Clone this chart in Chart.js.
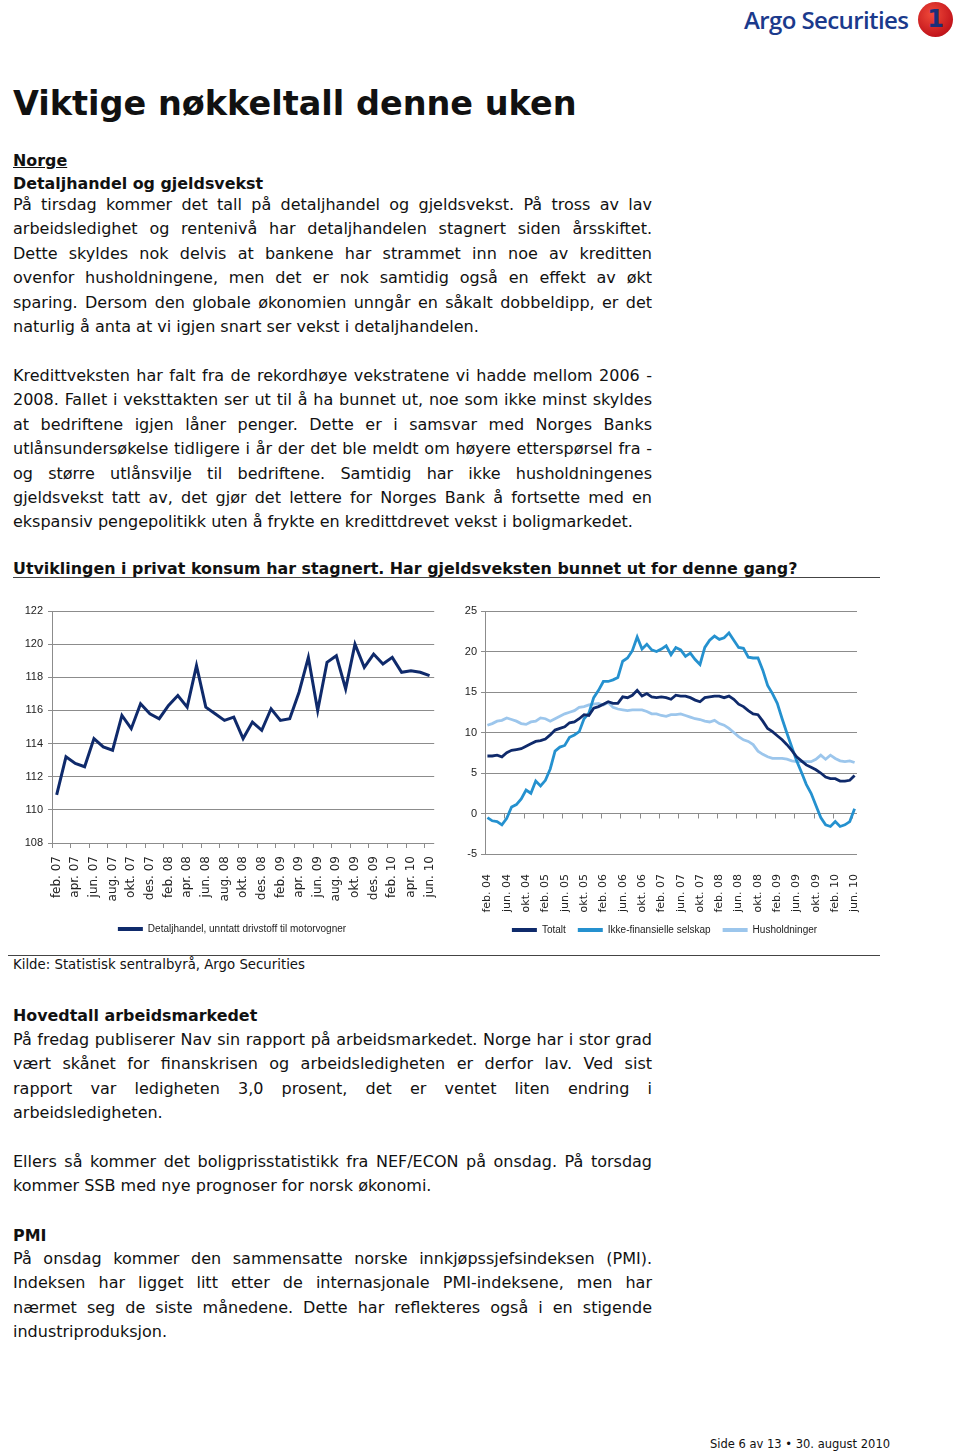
<!DOCTYPE html>
<html>
<head>
<meta charset="utf-8">
<script src="https://cdn.jsdelivr.net/npm/chart.js@4.4.0/dist/chart.umd.min.js"></script>
<style>
  body { margin: 0; width: 960px; height: 1454px; background: #fff; position: relative; font-family: 'DejaVu Sans', Verdana, sans-serif; color: #111; overflow: hidden; }
  .abs { position: absolute; }
  .txt { left: 13px; width: 639px; font-size: 16px; }
  .txt div { height: 24.4px; line-height: 24.4px; white-space: nowrap; }
  .txt div.j { text-align: justify; text-align-last: justify; }
  .b { font-weight: bold; font-size: 15.9px; left: 13px; white-space: nowrap; line-height: 23px; }
  .rule { height: 0; border-top: 1px solid #444; }
</style>
</head>
<body>

<div class="abs" style="left:744px; top:3px; font-family:'Open Sans', sans-serif; font-weight:600; font-size:24px; letter-spacing:-0.6px; color:#1b3a8c; line-height:34px;">Argo Securities</div>
<div class="abs" style="left:918px; top:2px; width:35px; height:35px; border-radius:50%; background:radial-gradient(circle at 40% 35%, #f04a3a, #c4161c 70%, #9a0f14); color:#1b2f7a; font:bold 24px 'DejaVu Sans', sans-serif; text-align:center; line-height:35px;">1</div>

<div class="abs" style="left:13px; top:84px; font-size:33.5px; font-weight:bold; line-height:40px; white-space:nowrap;">Viktige nøkkeltall denne uken</div>

<div class="abs b" style="top:149px; text-decoration:underline;">Norge</div>
<div class="abs b" style="top:172px;">Detaljhandel og gjeldsvekst</div>

<div class="abs txt" style="top:193px;">
  <div class="j">På tirsdag kommer det tall på detaljhandel og gjeldsvekst. På tross av lav</div>
  <div class="j">arbeidsledighet og rentenivå har detaljhandelen stagnert siden årsskiftet.</div>
  <div class="j">Dette skyldes nok delvis at bankene har strammet inn noe av kreditten</div>
  <div class="j">ovenfor husholdningene, men det er nok samtidig også en effekt av økt</div>
  <div class="j">sparing. Dersom den globale økonomien unngår en såkalt dobbeldipp, er det</div>
  <div>naturlig å anta at vi igjen snart ser vekst i detaljhandelen.</div>
</div>

<div class="abs txt" style="top:364px;">
  <div class="j">Kredittveksten har falt fra de rekordhøye vekstratene vi hadde mellom 2006 -</div>
  <div class="j">2008. Fallet i veksttakten ser ut til å ha bunnet ut, noe som ikke minst skyldes</div>
  <div class="j">at bedriftene igjen låner penger. Dette er i samsvar med Norges Banks</div>
  <div class="j">utlånsundersøkelse tidligere i år der det ble meldt om høyere etterspørsel fra -</div>
  <div class="j">og større utlånsvilje til bedriftene. Samtidig har ikke husholdningenes</div>
  <div class="j">gjeldsvekst tatt av, det gjør det lettere for Norges Bank å fortsette med en</div>
  <div>ekspansiv pengepolitikk uten å frykte en kredittdrevet vekst i boligmarkedet.</div>
</div>

<div class="abs b" style="top:557px;">Utviklingen i privat konsum har stagnert. Har gjeldsveksten bunnet ut for denne gang?</div>
<div class="abs rule" style="left:13px; width:867px; top:577px;"></div>

<div class="abs" style="left:0; top:595px;"><canvas id="venstre" width="452" height="349"></canvas></div>
<div class="abs" style="left:450px; top:595px;"><canvas id="hoyre" width="430" height="350"></canvas></div>

<div class="abs rule" style="left:8px; width:872px; top:955px;"></div>
<div class="abs" style="left:13px; top:956px; font-size:13.3px; line-height:17px; white-space:nowrap;">Kilde: Statistisk sentralbyrå, Argo Securities</div>

<div class="abs b" style="top:1004px;">Hovedtall arbeidsmarkedet</div>
<div class="abs txt" style="top:1028px;">
  <div class="j">På fredag publiserer Nav sin rapport på arbeidsmarkedet. Norge har i stor grad</div>
  <div class="j">vært skånet for finanskrisen og arbeidsledigheten er derfor lav. Ved sist</div>
  <div class="j">rapport var ledigheten 3,0 prosent, det er ventet liten endring i</div>
  <div>arbeidsledigheten.</div>
</div>

<div class="abs txt" style="top:1150px;">
  <div class="j">Ellers så kommer det boligprisstatistikk fra NEF/ECON på onsdag. På torsdag</div>
  <div>kommer SSB med nye prognoser for norsk økonomi.</div>
</div>

<div class="abs b" style="top:1224px;">PMI</div>
<div class="abs txt" style="top:1247px;">
  <div class="j">På onsdag kommer den sammensatte norske innkjøpssjefsindeksen (PMI).</div>
  <div class="j">Indeksen har ligget litt etter de internasjonale PMI-indeksene, men har</div>
  <div class="j">nærmet seg de siste månedene. Dette har reflekteres også i en stigende</div>
  <div>industriproduksjon.</div>
</div>

<div class="abs" style="left:710px; top:1437px; font-size:11.5px; line-height:15px; white-space:nowrap;">Side 6 av 13 • 30. august 2010</div>

<script>
// maaneder
var mnd = ['jan.', 'feb.', 'mar.', 'apr.', 'mai', 'jun.', 'jul.', 'aug.', 'sep.', 'okt.', 'nov.', 'des.'];
function maaneder(aar, start, antall) {
    var ut = [];
    for (var i = 0; i < antall; i++) {
        var m = (start + i) % 12;
        var a = aar + Math.floor((start + i) / 12);
        ut.push(mnd[m] + ' ' + String(a % 100).padStart(2, '0'));
    }
    return ut;
}

// venstre figur: detaljhandel, feb.07 - jun.10
var mndVenstre = maaneder(2007, 1, 41);
var detaljhandel = [
    110.9, 113.2, 112.8, 112.6, 114.3, 113.8, 113.6, 115.7, 114.9, 116.4,
    115.8, 115.5, 116.3, 116.9, 116.2, 118.7, 116.2, 115.8, 115.4, 115.6,
    114.3, 115.3, 114.8, 116.1, 115.4, 115.5, 117.1, 119.2, 116.0, 118.9,
    119.3, 117.3, 120.0, 118.6, 119.4, 118.8, 119.2, 118.3, 118.4, 118.3,
    118.1
];

// hoyre figur: kredittvekst, feb.04 - jun.10
var mndHoyre = maaneder(2004, 1, 77);
var totalt = [
    7.1, 7.1, 7.2, 7.0, 7.5, 7.8, 7.9, 8.0, 8.3, 8.6,
    8.9, 9.0, 9.2, 9.7, 10.3, 10.5, 10.7, 11.2, 11.3, 11.7,
    12.2, 12.1, 13.0, 13.2, 13.5, 13.8, 13.6, 13.6, 14.4, 14.3,
    14.6, 15.2, 14.5, 14.8, 14.4, 14.3, 14.4, 14.3, 14.1, 14.6,
    14.5, 14.5, 14.3, 14.0, 13.8, 14.3, 14.4, 14.5, 14.5, 14.3,
    14.5, 14.1, 13.5, 13.2, 12.7, 12.3, 12.2, 11.4, 10.5, 10.1,
    9.6, 9.1, 8.5, 7.8, 7.0, 6.5, 6.0, 5.7, 5.4, 5.0,
    4.5, 4.3, 4.3, 4.0, 4.0, 4.1, 4.7
];
var ikkeFinansielle = [
    -0.5, -0.9, -1.0, -1.4, -0.6, 0.8, 1.1, 1.8, 2.9, 2.5,
    4.0, 3.4, 4.1, 5.5, 7.7, 8.2, 8.4, 9.4, 9.7, 10.1,
    11.7, 12.4, 14.3, 15.2, 16.3, 16.3, 16.5, 16.8, 18.8, 19.2,
    20.1, 21.8, 20.3, 20.9, 20.2, 20.0, 20.3, 20.7, 19.6, 20.5,
    20.2, 19.4, 19.8, 19.0, 18.4, 20.5, 21.4, 21.9, 21.5, 21.7,
    22.3, 21.4, 20.5, 20.4, 19.3, 19.2, 19.2, 17.7, 15.8, 14.8,
    13.6, 11.7, 9.9, 8.2, 6.5, 5.1, 3.6, 2.5, 1.0, -0.5,
    -1.4, -1.6, -1.0, -1.6, -1.4, -1.0, 0.6
];
var husholdninger = [
    10.9, 11.1, 11.4, 11.5, 11.8, 11.6, 11.4, 11.1, 11.0, 11.3,
    11.4, 11.8, 11.7, 11.4, 11.7, 12.0, 12.3, 12.5, 12.7, 13.1,
    13.2, 13.4, 13.5, 13.6, 13.4, 13.7, 13.1, 12.9, 12.8, 12.7,
    12.8, 12.8, 12.8, 12.6, 12.3, 12.3, 12.1, 12.0, 12.2, 12.2,
    12.3, 12.1, 11.9, 11.7, 11.6, 11.4, 11.3, 11.5, 11.1, 10.9,
    10.5, 10.0, 9.5, 9.1, 8.9, 8.5, 7.7, 7.3, 7.0, 6.8,
    6.8, 6.8, 6.7, 6.5, 6.4, 6.4, 6.4, 6.4, 6.7, 7.2,
    6.7, 7.2, 6.8, 6.5, 6.4, 6.5, 6.3
];

var gridFarge = '#8c8c8c';
var smal = "'Liberation Sans', Arial, sans-serif";
Chart.defaults.font.family = "'DejaVu Sans', Verdana, sans-serif";
Chart.defaults.color = '#222';

function legendUtenKant(chart) {
    return Chart.defaults.plugins.legend.labels.generateLabels(chart).map(function (l) {
        l.lineWidth = 0;
        return l;
    });
}

var legendOpts = {
    position: 'bottom',
    labels: {
        boxWidth: 25, boxHeight: 4, padding: 12,
        font: { family: smal, size: 10 }, color: '#222',
        generateLabels: legendUtenKant
    }
};

// flytter legenden litt mot hoyre
var flyttLegend = {
    id: 'flyttLegend',
    afterLayout: function (chart, args, opts) {
        chart.legend.left += opts.dx;
        chart.legend.right += opts.dx;
    }
};

var ctx = document.getElementById('venstre').getContext('2d');
var chart1 = new Chart(ctx, {
    type: 'line',
    data: {
        labels: mndVenstre,
        datasets: [{
            label: 'Detaljhandel, unntatt drivstoff til motorvogner',
            data: detaljhandel,
            borderColor: '#0f2a6b',
            backgroundColor: '#0f2a6b',
            borderWidth: 3,
            pointRadius: 0,
            tension: 0
        }]
    },
    options: {
        responsive: false,
        animation: false,
        layout: { padding: { top: 16, right: 4, bottom: 0, left: 0 } },
        plugins: { legend: legendOpts, tooltip: { enabled: false }, flyttLegend: { dx: 8 } },
        scales: {
            x: {
                offset: true,
                afterFit: function (s) { s.height = 69; },
                grid: {
                    offset: true,
                    drawOnChartArea: false,
                    tickLength: 5,
                    color: function (c) { return c.index % 2 === 0 ? gridFarge : 'rgba(0,0,0,0)'; }
                },
                border: { display: false },
                ticks: {
                    autoSkip: false, maxRotation: 90, minRotation: 90, padding: 8,
                    font: { size: 12 }, color: '#222',
                    callback: function (v, i) { return i % 2 === 0 ? this.getLabelForValue(v) : ''; }
                }
            },
            y: {
                min: 108, max: 122,
                afterFit: function (s) { s.width = 52; },
                grid: { color: gridFarge, tickLength: 4 },
                border: { display: true, color: gridFarge },
                ticks: { stepSize: 2, padding: 5, font: { family: smal, size: 11 }, color: '#222' }
            }
        }
    },
    plugins: [flyttLegend]
});

// smaa streker paa nullinjen, hver fjerde maaned
var nullStreker = {
    id: 'nullStreker',
    beforeDatasetsDraw: function (chart) {
        var x = chart.scales.x, y = chart.scales.y;
        var y0 = y.getPixelForValue(0);
        var c = chart.ctx;
        c.save();
        c.strokeStyle = gridFarge;
        c.lineWidth = 1;
        c.beginPath();
        for (var i = 4; i < mndHoyre.length; i += 4) {
            var px = Math.round(x.getPixelForValue(i - 0.5)) + 0.5;
            c.moveTo(px, y0);
            c.lineTo(px, y0 + 5);
        }
        c.stroke();
        c.restore();
    }
};

var ctx2 = document.getElementById('hoyre').getContext('2d');
var chart2 = new Chart(ctx2, {
    type: 'line',
    data: {
        labels: mndHoyre,
        datasets: [
        {
            label: 'Totalt',
            data: totalt,
            borderColor: '#0f2a6b',
            backgroundColor: '#0f2a6b',
            borderWidth: 2.8, pointRadius: 0, tension: 0
        },
        {
            label: 'Ikke-finansielle selskap',
            data: ikkeFinansielle,
            borderColor: '#2591cf',
            backgroundColor: '#2591cf',
            borderWidth: 2.8, pointRadius: 0, tension: 0
        },
        {
            label: 'Husholdninger',
            data: husholdninger,
            borderColor: '#9cc6ec',
            backgroundColor: '#9cc6ec',
            borderWidth: 2.8, pointRadius: 0, tension: 0
        }]
    },
    options: {
        responsive: false,
        animation: false,
        layout: { padding: { top: 16, right: 23, bottom: 0, left: 0 } },
        plugins: { legend: legendOpts, tooltip: { enabled: false }, flyttLegend: { dx: 11 } },
        scales: {
            x: {
                offset: true,
                afterFit: function (s) { s.height = 59; },
                grid: { display: false },
                border: { display: false },
                ticks: {
                    autoSkip: false, maxRotation: 90, minRotation: 90, padding: 12,
                    font: { size: 11 }, color: '#222',
                    callback: function (v, i) { return i % 4 === 0 ? this.getLabelForValue(v) : ''; }
                }
            },
            y: {
                min: -5, max: 25,
                afterFit: function (s) { s.width = 35; },
                grid: { color: gridFarge, tickLength: 4 },
                border: { display: true, color: gridFarge },
                ticks: { stepSize: 5, padding: 4, font: { family: smal, size: 11 }, color: '#222' }
            }
        }
    },
    plugins: [nullStreker, flyttLegend]
});
</script>
</body>
</html>
